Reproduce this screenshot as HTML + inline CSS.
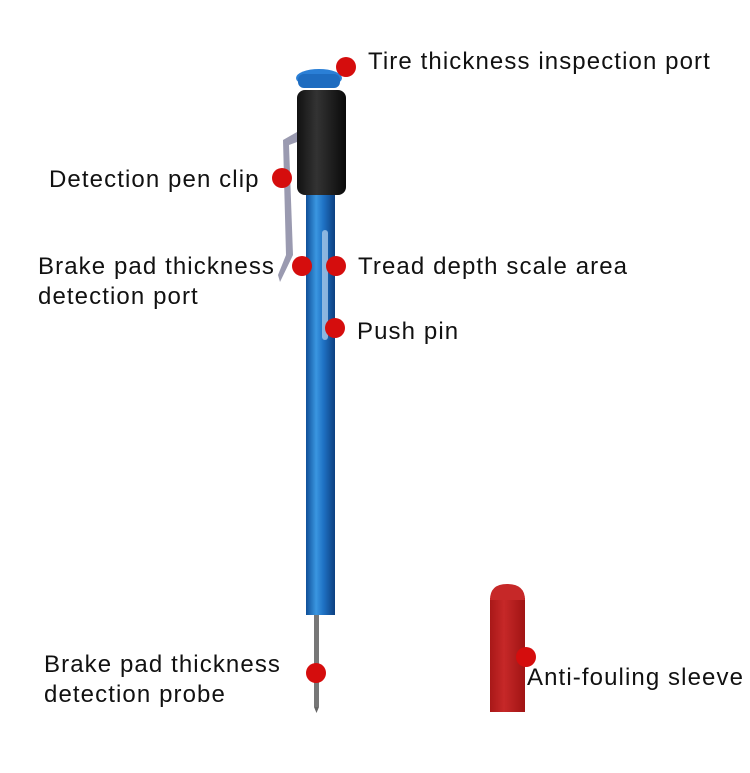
<!DOCTYPE html>
<html><head><style>
body{margin:0;width:750px;height:773px;background:#fff;position:relative;overflow:hidden;font-family:"Liberation Sans",sans-serif;}
.t{position:absolute;font-size:24px;letter-spacing:1.1px;color:#111;line-height:30px;white-space:nowrap;}
.d{position:absolute;width:20px;height:20px;border-radius:50%;background:#d50d0d;}
</style></head><body>
<svg width="750" height="773" style="position:absolute;left:0;top:0">
<defs>
<linearGradient id="b" x1="0" x2="1"><stop offset="0" stop-color="#0f4f98"/><stop offset=".35" stop-color="#3a96e0"/><stop offset=".6" stop-color="#1f72c4"/><stop offset="1" stop-color="#0c3f80"/></linearGradient>
<linearGradient id="k" x1="0" x2="1"><stop offset="0" stop-color="#111"/><stop offset=".4" stop-color="#333"/><stop offset="1" stop-color="#0a0a0a"/></linearGradient>
<linearGradient id="r" x1="0" x2="1"><stop offset="0" stop-color="#a81818"/><stop offset=".4" stop-color="#c62828"/><stop offset="1" stop-color="#a01414"/></linearGradient>
</defs>
<rect x="314" y="612" width="5" height="95" fill="#777"/>
<path d="M314 707 L316.5 713 L319 707Z" fill="#666"/>
<rect x="306" y="190" width="29" height="425" fill="url(#b)"/>
<rect x="322" y="230" width="6" height="110" rx="3" fill="#a8c8e8" opacity=".8"/>
<path d="M283 140 L297 132 L297 142 L289 145 L293 255 L280 282 L278 275 L286 255Z" fill="#9a9ab0"/>
<rect x="297" y="90" width="49" height="105" rx="8" fill="url(#k)"/>
<ellipse cx="319" cy="78" rx="23" ry="9" fill="#2a7fd6"/>
<rect x="298" y="74" width="42" height="14" rx="6" fill="#1e6cc0"/>
<rect x="490" y="598" width="35" height="114" fill="url(#r)"/>
<path d="M490 600 Q490 584 507 584 Q525 584 525 600Z" fill="#c62828"/>
</svg>
<div class="d" style="left:336px;top:57px"></div><div class="t" style="left:368px;top:47px">Tire thickness inspection port</div>
<div class="d" style="left:272px;top:168px"></div><div class="t" style="left:49px;top:165px">Detection pen clip</div>
<div class="d" style="left:292px;top:256px"></div><div class="d" style="left:326px;top:256px"></div>
<div class="t" style="left:38px;top:252px">Brake pad thickness<br>detection port</div>
<div class="t" style="left:358px;top:252px">Tread depth scale area</div>
<div class="d" style="left:325px;top:318px"></div><div class="t" style="left:357px;top:317px">Push pin</div>
<div class="d" style="left:306px;top:663px"></div><div class="t" style="left:44px;top:650px">Brake pad thickness<br>detection probe</div>
<div class="d" style="left:516px;top:647px"></div><div class="t" style="left:527px;top:663px">Anti-fouling sleeve</div>
</body></html>
